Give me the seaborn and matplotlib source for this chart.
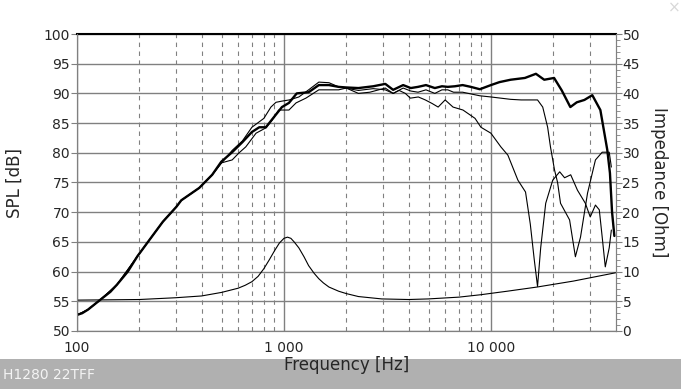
import matplotlib
matplotlib.use("Agg")
import matplotlib.pyplot as plt
from matplotlib.patches import Rectangle
from matplotlib.ticker import FixedLocator, NullFormatter, MultipleLocator
import pandas as pd
import seaborn as sns

# ---------------- data ----------------
# on-axis SPL (thick)
freq_on = [100, 106, 113, 129, 145, 156, 176, 196, 229, 260, 302, 319, 390,
           450, 498, 562, 630, 700, 760, 818, 894, 978, 1057, 1153, 1316,
           1474, 1650, 1837, 2000, 2290, 2700, 3088, 3370, 3768, 4100, 4446,
           4855, 5360, 5800, 6190, 6700, 7300, 8000, 8840, 10000, 11000,
           12450, 14600, 16500, 18100, 20200, 22000, 24200, 26000, 28300,
           30900, 33800, 36500, 37600, 38500, 39500]
spl_on = [52.7, 53.0, 53.6, 55.2, 56.6, 57.8, 60.0, 62.6, 65.8, 68.4, 70.9,
          72.0, 74.1, 76.3, 78.5, 80.1, 81.8, 83.5, 84.3, 84.3, 86.0, 87.7,
          88.4, 90.0, 90.2, 91.4, 91.4, 91.1, 91.0, 90.9, 91.2, 91.6, 90.6,
          91.4, 90.9, 91.1, 91.4, 90.9, 91.2, 91.1, 91.2, 91.4, 91.1, 90.7,
          91.4, 91.9, 92.3, 92.6, 93.3, 92.3, 92.6, 90.5, 87.7, 88.5, 88.9,
          89.7, 87.2, 80.5, 76.6, 70.0, 66.0]

# off-axis SPL, curve A (thin)
freq_a = [100, 113, 129, 156, 196, 229, 260, 302, 319, 390, 450, 500, 562,
          630, 700, 800, 865, 915, 978, 1060, 1180, 1316, 1474, 1650, 1837,
          2290, 2700, 3088, 3370, 3600, 3860, 4080, 4460, 4820, 5200, 5560,
          6010, 6560, 7330, 8380, 8950, 10000, 11170, 12080, 13500, 14700,
          15500, 16200, 16800, 17400, 18400, 19900, 21500, 22700, 24300,
          26200, 28600, 30200, 32000, 33400, 34500, 35700, 37300, 38200]
spl_a = [52.7, 53.6, 55.2, 57.8, 62.6, 65.8, 68.4, 70.9, 72.0, 74.1, 76.3,
         78.3, 80.4, 82.0, 84.3, 85.8, 87.7, 88.5, 88.7, 88.9, 89.4, 90.6,
         91.9, 91.8, 91.1, 90.5, 90.8, 90.6, 90.0, 90.5, 90.0, 89.2, 89.4,
         88.9, 88.3, 87.7, 88.9, 87.7, 87.2, 85.8, 84.3, 83.3, 81.0, 79.6,
         75.4, 73.4, 68.0, 62.0, 57.5, 64.0, 71.5, 75.4, 76.8, 75.8, 76.3,
         73.7, 71.5, 69.2, 71.2, 70.4, 65.8, 60.8, 64.0, 67.0]

# off-axis SPL, curve B (thin)
freq_b = [100, 113, 129, 156, 196, 229, 260, 302, 319, 390, 450, 498, 562,
          607, 654, 733, 818, 877, 943, 1057, 1144, 1276, 1474, 1650, 1837,
          2000, 2290, 2600, 3088, 3370, 3768, 4100, 4446, 4855, 5360, 5800,
          6190, 6600, 7300, 8840, 10000, 12450, 14000, 16800, 17800, 18800,
          19400, 20300, 21000, 21700, 24000, 25600, 27100, 29300, 32000,
          34500, 37300, 38200]
spl_b = [52.7, 53.6, 55.2, 57.8, 62.6, 65.8, 68.4, 70.9, 72.0, 74.1, 76.3,
         78.3, 78.8, 80.0, 81.0, 83.3, 84.2, 85.5, 87.2, 87.2, 88.4, 89.2,
         90.6, 90.6, 90.6, 90.9, 90.0, 90.2, 90.9, 90.0, 90.9, 90.4, 90.2,
         90.6, 90.0, 90.6, 90.6, 90.2, 90.2, 89.6, 89.4, 89.0, 88.9, 88.9,
         87.7, 84.3, 81.0, 77.1, 75.0, 71.5, 68.7, 62.5, 65.8, 73.2, 78.8,
         80.1, 80.1, 77.6]

# impedance (right axis)
freq_z = [100, 200, 300, 400, 500, 600, 650, 700, 750, 800, 850, 900, 950,
          1000, 1040, 1080, 1120, 1180, 1250, 1316, 1400, 1474, 1550, 1650,
          1837, 2000, 2290, 2970, 4000, 4980, 7000, 8900, 12000, 16700, 25000,
          40000]
imp_z = [5.2, 5.3, 5.6, 5.9, 6.5, 7.2, 7.7, 8.3, 9.2, 10.5, 12.0, 13.5, 14.8,
         15.6, 15.8, 15.6, 15.0, 14.0, 12.5, 11.0, 9.7, 8.8, 8.1, 7.4, 6.7,
         6.3, 5.8, 5.4, 5.3, 5.4, 5.7, 6.1, 6.7, 7.4, 8.4, 9.8]

major_f = [100, 1000, 10000]
major_lbl = ["100", "1 000", "10 000"]
minor_f = [200, 300, 400, 500, 600, 700, 800, 900,
           2000, 3000, 4000, 5000, 6000, 7000, 8000, 9000,
           20000, 30000]

# ---------------- plot ----------------
sns.set_style("white")
plt.rcParams["font.family"] = ["DejaVu Sans"]

fig = plt.figure(figsize=(6.81, 3.89), dpi=100)
ax = fig.add_axes([77 / 681, 58 / 389, 538.5 / 681, 297 / 389])
ax2 = ax.twinx()

grid_c = "#808080"

sns.lineplot(data=pd.DataFrame({"f": freq_a, "spl": spl_a}), x="f", y="spl",
             ax=ax, color="black", lw=0.8, sort=False, estimator=None)
sns.lineplot(data=pd.DataFrame({"f": freq_b, "spl": spl_b}), x="f", y="spl",
             ax=ax, color="black", lw=0.8, sort=False, estimator=None)
sns.lineplot(data=pd.DataFrame({"f": freq_on, "spl": spl_on}), x="f", y="spl",
             ax=ax, color="black", lw=1.7, sort=False, estimator=None)
sns.lineplot(data=pd.DataFrame({"f": freq_z, "z": imp_z}), x="f", y="z",
             ax=ax2, color="black", lw=0.8, sort=False, estimator=None)

for a in (ax, ax2):
    a.set_xscale("log")
    a.set_xlim(100, 40000)
ax.set_ylim(50, 100)
ax2.set_ylim(0, 50)

ax.xaxis.set_major_locator(FixedLocator(major_f))
ax.xaxis.set_major_formatter(plt.FixedFormatter(major_lbl))
ax.xaxis.set_minor_locator(FixedLocator(minor_f))
ax.xaxis.set_minor_formatter(NullFormatter())
ax.yaxis.set_major_locator(MultipleLocator(5))
ax2.yaxis.set_major_locator(MultipleLocator(5))
ax2.yaxis.set_minor_locator(MultipleLocator(1))

ax.grid(which="major", color=grid_c, lw=1.0)
ax.grid(which="minor", axis="x", color=grid_c, lw=0.8, linestyle=(0, (4, 4)))
ax2.grid(False)

ax.tick_params(axis="x", which="major", direction="out", length=4,
               color=grid_c, labelsize=10, pad=3)
ax.tick_params(axis="x", which="minor", direction="inout", length=5,
               color=grid_c)
ax.tick_params(axis="y", which="major", direction="out", length=4,
               color=grid_c, labelsize=10, pad=1, left=True)
ax2.tick_params(axis="y", which="major", direction="out", length=4,
                color=grid_c, labelsize=10, pad=1, right=True)
ax2.tick_params(axis="y", which="minor", direction="out", length=3,
                color=grid_c, right=True)

for s in ("left", "right", "bottom"):
    ax.spines[s].set_color(grid_c)
    ax2.spines[s].set_color(grid_c)
ax.spines["top"].set_color("black")
ax.spines["top"].set_linewidth(1.5)
ax2.spines["top"].set_visible(False)

ax.set_xlabel("Frequency [Hz]", fontsize=12)
ax.xaxis.set_label_coords(0.5, -0.085)
ax.xaxis.label.set_va("top")
ax.set_ylabel("SPL [dB]", fontsize=12)
ax.yaxis.set_label_coords(-0.098, 0.5)
ax2.set_ylabel("Impedance [Ohm]", fontsize=12, rotation=270)
ax2.yaxis.set_label_coords(1.08, 0.5)
ax2.yaxis.label.set_va("center")

# grey footer band with file name
fig.add_artist(Rectangle((0, 0), 1, 30 / 389, transform=fig.transFigure,
                         facecolor="#b0b0b0", edgecolor="none", zorder=-1))
fig.text(3 / 681, 14 / 389, "H1280 22TFF", color="#f4f4f4", fontsize=10,
         va="center", ha="left")
fig.text(674 / 681, 381 / 389, "×", color="#d8d8d8", fontsize=11,
         va="center", ha="center")

fig.savefig("out.png", dpi=100)
